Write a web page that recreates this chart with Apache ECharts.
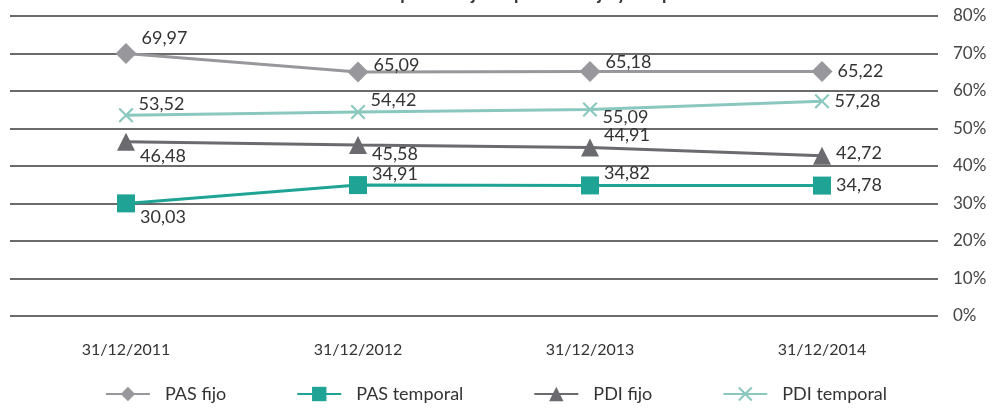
<!DOCTYPE html>
<html>
<head>
<meta charset="utf-8">
<script src="https://cdn.jsdelivr.net/npm/echarts@6/dist/echarts.min.js"></script>
<style>
  html, body { margin: 0; padding: 0; background: #fff; }
  #chart { width: 992px; height: 408px; }
</style>
</head>
<body>
<div id="chart"></div>
<script>
  var myChart = echarts.init(document.getElementById("chart"));

  const categories = ["31/12/2011", "31/12/2012", "31/12/2013", "31/12/2014"];
  const pasFijo = [69.97, 65.09, 65.18, 65.22];
  const pasTemporal = [30.03, 34.91, 34.82, 34.78];
  const pdiFijo = [46.48, 45.58, 44.91, 42.72];
  const pdiTemporal = [53.52, 54.42, 55.09, 57.28];

  // vertical shift of each value label
  const offPasFijo = [-15, -7, -9, 0];
  const offPasTemporal = [14, -11, -12, 0];
  const offPdiFijo = [14, 9, -12, -3];
  const offPdiTemporal = [-11, -12, 8, 0];

  const crossPath =
    "path://M2,0 L10,8 L18,0 L20,2 L12,10 L20,18 L18,20 L10,12 L2,20 L0,18 L8,10 L0,2 Z";

  function withLabels(values, offsets) {
    return values.map((v, i) => ({
      value: v,
      label: { offset: [0, offsets[i]] },
    }));
  }

  function makeSeries(name, values, offsets, color, symbol, size) {
    return {
      name: name,
      type: "line",
      data: withLabels(values, offsets),
      symbol: symbol,
      symbolSize: size,
      lineStyle: { color: color, width: 3 },
      itemStyle: { color: color },
      label: {
        show: true,
        position: "right",
        distance: 5,
        color: "#333",
        fontSize: 18,
        fontFamily: "Lato",
        formatter: (p) => p.value.toFixed(2).replace(".", ","),
      },
      z: 3,
    };
  }

  option = {
    backgroundColor: "#fff",
    animation: false,
    title: {
      text: "Evolución del porcentaje de personal fijo y temporal",
      left: "center",
      top: -20,
      textStyle: { fontSize: 18, fontWeight: "bold", color: "#333", fontFamily: "Lato" },
    },
    legend: {
      bottom: 0,
      left: "center",
      itemWidth: 44,
      itemHeight: 18,
      itemGap: 70,
      textStyle: { color: "#333", fontSize: 18, fontFamily: "Lato", padding: [0, 0, 0, 10] },
      data: ["PAS fijo", "PAS temporal", "PDI fijo", "PDI temporal"],
    },
    grid: {
      top: 16,
      bottom: 92,
      left: 10,
      right: 54,
    },
    xAxis: {
      type: "category",
      data: categories,
      boundaryGap: true,
      axisLine: { show: false },
      axisTick: { show: false },
      axisLabel: { color: "#333", fontSize: 16, fontFamily: "Lato", margin: 26 },
    },
    yAxis: {
      type: "value",
      position: "right",
      min: 0,
      max: 80,
      interval: 10,
      axisLine: { show: false },
      axisTick: { show: false },
      axisLabel: {
        color: "#444",
        fontSize: 17,
        fontFamily: "Lato",
        margin: 15,
        formatter: "{value}%",
      },
      splitLine: { lineStyle: { color: "#3a3a3a", width: 1.5 } },
    },
    series: [
      makeSeries("PAS fijo", pasFijo, offPasFijo, "#98989c", "diamond", 21),
      makeSeries("PAS temporal", pasTemporal, offPasTemporal, "#1fa395", "rect", 18),
      makeSeries("PDI fijo", pdiFijo, offPdiFijo, "#6a6a6f", "triangle", 18),
      makeSeries("PDI temporal", pdiTemporal, offPdiTemporal, "#8ac8bf", crossPath, 15),
    ],
  };

  myChart.setOption(option, true);

  window.onresize = function () {
    myChart.resize();
  };
</script>
</body>
</html>
